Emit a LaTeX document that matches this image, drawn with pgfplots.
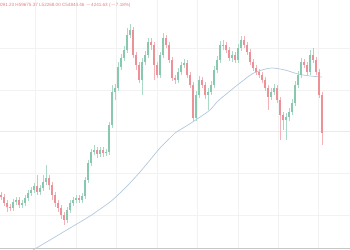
\documentclass[border=0pt]{standalone}
\usepackage{pgfplots}
\pgfplotsset{compat=1.18}
\usepackage{pgfplotstable}
\usepackage{fontspec}
\setmainfont{Liberation Sans}
\definecolor{up}{RGB}{135,200,175}
\definecolor{dn}{RGB}{236,145,152}
\definecolor{ma}{RGB}{178,200,222}
\definecolor{txt}{RGB}{228,125,128}
% candles in screen units (y grows downward): x open close high low
\pgfplotstableread{
x o c h l
13 208 202 199 211
16 202 200 197 205
22 205 203 200 208
25 203 198 195 206
28 198 193 190 201
31 193 190 187 196
34 190 186 183 193
40 192 188 185 195
43 188 182 175 191
46 182 178 165 185
67 220 210 207 223
70 210 203 200 213
73 203 200 197 206
76 200 198 195 203
82 200 196 193 203
85 196 180 177 199
88 180 163 160 183
91 163 152 149 166
94 152 150 145 155
100 154 150 147 157
106 153 152 149 156
109 152 125 122 155
112 125 92 85 128
115 92 88 84 100
118 88 67 62 91
121 67 58 54 70
124 58 50 46 61
127 50 35 28 53
130 35 30 24 38
142 80 62 58 95
145 62 55 51 65
148 55 42 38 58
160 75 55 52 78
163 55 38 33 58
178 80 72 68 83
181 72 65 62 75
184 65 63 59 68
196 118 95 91 121
199 95 80 76 98
208 95 92 88 110
211 92 85 81 95
214 85 70 66 88
217 70 60 56 73
220 60 45 41 63
223 46 45 40 50
232 58 55 51 62
238 60 48 44 63
241 48 40 36 51
271 97 92 88 100
274 92 88 84 95
286 120 117 113 140
289 117 112 108 121
292 112 103 99 115
295 103 85 81 106
298 85 75 71 88
301 75 62 58 78
310 72 55 50 75
}\greentab
\pgfplotstableread{
x o c h l
1 195 197 192 200
4 197 203 194 206
7 203 207 200 212
10 207 208 204 211
19 200 205 197 208
37 186 192 175 195
49 178 185 175 190
52 185 195 182 200
55 195 203 192 207
58 203 208 200 212
61 208 215 205 219
64 215 220 212 225
79 198 200 195 203
97 150 154 147 158
103 150 153 147 157
133 30 55 27 58
136 55 65 52 70
139 65 80 62 83
151 42 45 38 50
154 45 65 42 80
157 65 75 62 78
166 38 45 35 48
169 45 60 42 63
172 60 78 57 81
175 78 80 75 84
187 63 75 60 78
190 75 85 72 88
193 85 118 82 122
202 80 85 77 88
205 85 95 82 99
226 45 50 42 53
229 50 58 47 61
235 55 60 52 63
244 40 45 36 48
247 45 52 42 55
250 52 62 49 65
253 62 68 59 71
256 68 72 65 75
259 72 75 69 78
262 75 80 72 83
265 80 88 77 91
268 88 97 85 110
277 88 100 85 103
280 100 115 97 140
283 115 120 112 130
304 62 65 59 68
307 65 72 62 75
313 55 60 48 63
316 60 72 57 75
319 72 95 69 98
322 95 133 92 145
}\redtab
\begin{document}
\begin{tikzpicture}
\begin{axis}[
  scale only axis, width=350bp, height=250bp,
  xmin=0, xmax=350, ymin=0, ymax=250, y dir=reverse,
  axis lines=none, clip=true,
  ticks=none,
]
% faint grid
\addplot[black!5, line width=0.4pt, forget plot] coordinates {(35,0) (35,248)};
\addplot[black!5, line width=0.4pt, forget plot] coordinates {(76,0) (76,248)};
\addplot[black!5, line width=0.4pt, forget plot] coordinates {(116,0) (116,248)};
\addplot[black!5, line width=0.4pt, forget plot] coordinates {(157,0) (157,248)};
\addplot[black!5, line width=0.4pt, forget plot] coordinates {(197,0) (197,248)};
\addplot[black!5, line width=0.4pt, forget plot] coordinates {(238,0) (238,248)};
\addplot[black!5, line width=0.4pt, forget plot] coordinates {(278,0) (278,248)};
\addplot[black!5, line width=0.4pt, forget plot] coordinates {(318,0) (318,248)};
\addplot[black!5, line width=0.4pt, forget plot] coordinates {(0,48) (350,48)};
\addplot[black!5, line width=0.4pt, forget plot] coordinates {(0,90) (350,90)};
\addplot[black!5, line width=0.4pt, forget plot] coordinates {(0,173) (350,173)};
\addplot[black!5, line width=0.4pt, forget plot] coordinates {(0,215) (350,215)};
% price line
\addplot[dn!25, line width=0.5pt, forget plot] coordinates {(0,131) (350,131)};
% bottom border
\addplot[black!22, line width=0.8pt, forget plot] coordinates {(0,248.5) (350,248.5)};
% moving average
\addplot[ma, line width=0.7pt, smooth] coordinates {
(33,250) (50,240) (70,228) (90,216) (110,202) (120,193) (130,183) (140,172)
(150,160) (160,148) (170,138) (175,133) (188,125) (200,117) (210,110)
(218,101) (230,91) (240,83) (252,74) (262,70) (272,68) (285,70) (298,74)
(310,76) (322,77)};
% wicks
\addplot[up!70, line width=0.5pt, mark=none, quiver={u=0, v=\thisrow{l}-\thisrow{h}}]
  table[x=x, y=h] {\greentab};
\addplot[dn!70, line width=0.5pt, mark=none, quiver={u=0, v=\thisrow{l}-\thisrow{h}}]
  table[x=x, y=h] {\redtab};
% bodies
\addplot[up, line width=1.7bp, mark=none, quiver={u=0, v=\thisrow{c}-\thisrow{o}}]
  table[x=x, y=o] {\greentab};
\addplot[dn, line width=1.7bp, mark=none, quiver={u=0, v=\thisrow{c}-\thisrow{o}}]
  table[x=x, y=o] {\redtab};
\node[anchor=west, inner sep=0pt, text=txt, font=\fontsize{4.6}{5.5}\selectfont] at (axis cs:0,5.5)
  {091.23 H59675.37 L52268.00 C54844.46 $-$4241.63 ($-$7.18\%)};
\end{axis}
\end{tikzpicture}
\end{document}
